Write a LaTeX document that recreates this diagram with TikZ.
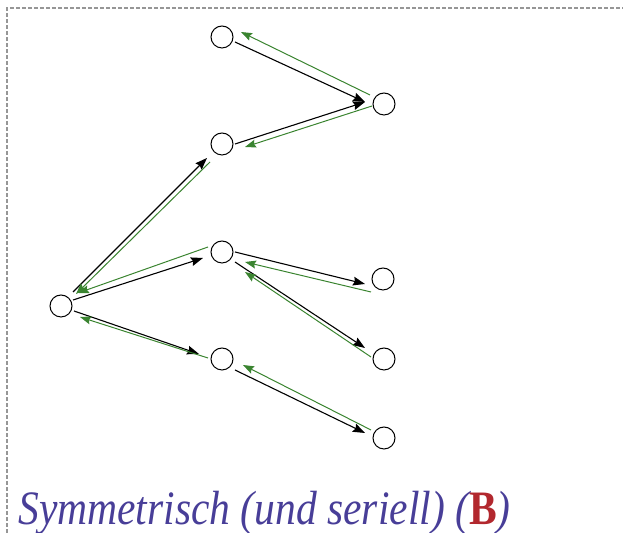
\documentclass[tikz,border=0pt]{standalone}
\usepackage{fontspec}
\setmainfont{Liberation Serif}
\newfontfamily\titlefont[FakeStretch=0.865]{Liberation Serif}
\usetikzlibrary{arrows.meta, calc}

\definecolor{backgreen}{RGB}{58,132,48}
\definecolor{titleblue}{RGB}{72,62,152}
\definecolor{titlered}{RGB}{178,40,46}
\definecolor{framegray}{RGB}{150,150,150}

\tikzset{
  state/.style={circle, draw, line width=0.5pt, minimum size=11pt, inner sep=0pt},
  fwd/.style={draw=black, line width=0.55pt, -{Stealth[length=6pt,width=4.4pt,inset=0.8pt]}},
  bwd/.style={draw=backgreen, line width=0.5pt, -{Stealth[length=5.5pt,width=4pt,inset=0.8pt]}},
  frame/.style={draw=framegray, line width=0.6pt, dash pattern=on 2pt off 1pt}
}

\begin{document}
\begin{tikzpicture}[x=0.5pt,y=-0.5pt]
\useasboundingbox (0,0) rectangle (623,533);
\draw[frame] (7,533) -- (7,8) -- (623,8);

% states
\node[state] (s) at (61,306) {};
\node[state] (m1) at (222,37) {};
\node[state] (m2) at (222,144) {};
\node[state] (m3) at (222,252) {};
\node[state] (m4) at (222,359) {};
\node[state] (l1) at (384,104) {};
\node[state] (l2) at (383,279) {};
\node[state] (l3) at (384,359) {};
\node[state] (l4) at (384,438) {};

% forward steps
\draw[fwd] ($(s)+(12,-14)$) -- ($(m2)+(-15,14)$);
\draw[fwd] ($(s)+(12,-6)$) -- ($(m3)+(-19,6)$);
\draw[fwd] ($(s)+(13,5)$) -- ($(m4)+(-23,-5)$);
\draw[fwd] ($(m1)+(13,5)$) -- ($(l1)+(-19,-2)$);
\draw[fwd] ($(m2)+(13,0)$) -- ($(l1)+(-19,-2)$);
\draw[fwd] ($(m3)+(13,0)$) -- ($(l2)+(-18,5)$);
\draw[fwd] ($(m3)+(13,10)$) -- ($(l3)+(-19,-11)$);
\draw[fwd] ($(m4)+(13,11)$) -- ($(l4)+(-19,-5)$);

% steps back
\draw[bwd] ($(m2)+(-12,18)$) -- ($(s)+(15,-12)$);
\draw[bwd] ($(m3)+(-14,-5)$) -- ($(s)+(17,-13)$);
\draw[bwd] ($(m4)+(-14,-1)$) -- ($(s)+(19,11)$);
\draw[bwd] ($(l1)+(-14,-9)$) -- ($(m1)+(19,-5)$);
\draw[bwd] ($(l1)+(-12,2)$) -- ($(m2)+(23,3)$);
\draw[bwd] ($(l2)+(-12,13)$) -- ($(m3)+(23,10)$);
\draw[bwd] ($(l3)+(-13,-2)$) -- ($(m3)+(23,20)$);
\draw[bwd] ($(l4)+(-13,-8)$) -- ($(m4)+(21,6)$);

\node[anchor=base west, inner sep=0pt, text=titleblue,
  font=\titlefont\itshape\fontsize{24}{28}\selectfont] (title) at (18,525)
  {Symmetrisch (und seriell) ({\upshape\bfseries\color{titlered}B})};
\end{tikzpicture}
\end{document}
